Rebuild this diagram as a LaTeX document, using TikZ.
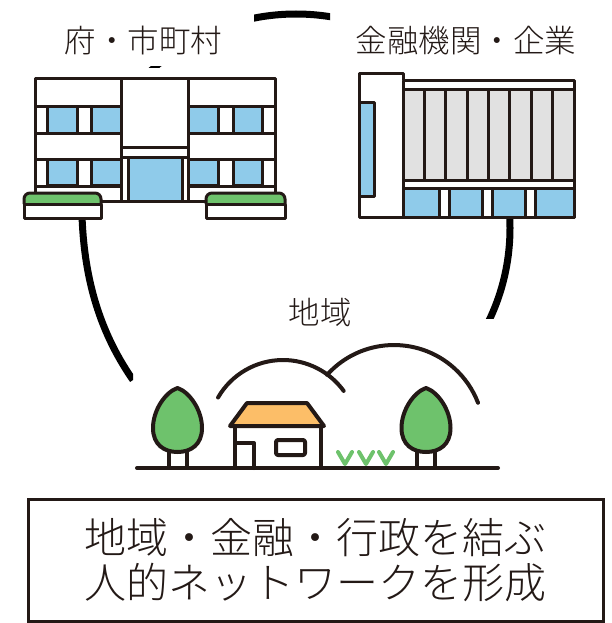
\documentclass[tikz,border=0pt]{standalone}
\usepackage{fontspec}
\newfontfamily\jp{Noto Sans CJK JP Light}
\definecolor{ink}{RGB}{35,25,22}
\definecolor{sky}{RGB}{143,203,234}
\definecolor{leaf}{RGB}{110,194,108}
\definecolor{roof}{RGB}{252,190,104}
\definecolor{panel}{RGB}{225,225,225}
\tikzset{
  bld/.style={draw=ink, line width=3, line join=round},
  win/.style={bld, fill=sky},
  land/.style={draw=ink, line width=4, line cap=round, line join=round},
  ring/.style={draw=black, line width=7},
  label/.style={font=\jp\fontsize{31.5}{31.5}\selectfont, text=ink, inner sep=0},
}
\begin{document}
\begin{tikzpicture}[x=1pt,y=-1pt]
\useasboundingbox (0,0) rectangle (612,623);

% ---- ring linking the three actors (only its uncovered parts) ----
\begin{scope}
  \clip (254,0) rectangle (330,40);
  \draw[ring] (296,228) circle[radius=214];
\end{scope}
\begin{scope}
  \clip (140,66.3) rectangle (170,68);
  \draw[ring] (296,228) circle[radius=214];
\end{scope}
\begin{scope}
  \clip (480,219.5) rectangle (612,318);
  \draw[ring] (296,228) circle[radius=214];
\end{scope}
\begin{scope}
  \clip (0,219.5) rectangle (133,400);
  \draw[ring] (82,216) .. controls (84,271) and (96,327) .. (133,380);
\end{scope}

% ---- labels ----
\node[label] (gov) at (143.5,40) {府・市町村};
\node[label] (fin) at (466,41) {金融機関・企業};
\node[label] (area) at (320,312) {地域};

% ---- town hall ----
\draw[bld, fill=white] (35,79) rectangle (275,201);
\foreach \y in {107,133,159,186} {
  \draw[bld] (35,\y) -- (121,\y);
  \draw[bld] (188,\y) -- (275,\y);
}
\foreach \y in {107,159} {
  \draw[win] (47,\y) rectangle (77,\y+26);
  \draw[win] (91,\y) rectangle (121,\y+26);
  \draw[win] (188,\y) rectangle (218,\y+26);
  \draw[win] (233,\y) rectangle (262,\y+26);
}
\draw[bld] (121,79) -- (121,201);
\draw[bld] (188,79) -- (188,201);
\draw[bld] (121,147) -- (188,147);
\draw[bld] (121,157) -- (188,157);
\draw[win] (128,157) rectangle (182,201);
% planters
\foreach \a/\b in {24/101,206/285} {
  \draw[bld, fill=leaf, rounded corners=6] (\a,204) -- (\a,193) -- (\b,193) -- (\b,204);
  \draw[bld, fill=white] (\a,204) rectangle (\b,218);
}

% ---- bank / company building ----
\draw[bld, fill=white] (359,217) -- (359,74) -- (403,74) -- (403,81) -- (574,81) -- (574,217) -- cycle;
\draw[bld, fill=panel] (403,90) rectangle (574,180);
\foreach \i in {1,...,7} \draw[bld] (403+21.375*\i,90) -- (403+21.375*\i,180);
\draw[bld] (403,81) -- (403,217);
\draw[bld] (403,188) -- (574,188);
\draw[win] (403,188) rectangle (439,217);
\draw[win] (449,188) rectangle (482,217);
\draw[win] (492,188) rectangle (525,217);
\draw[win] (535,188) rectangle (574,217);
\draw[win] (359,103) rectangle (374,196);

% ---- local area: hills, trees, house, grass ----
\draw[land] (218.05,397.5) arc[start angle=210, end angle=324, radius=75];
\draw[land] (327.1,374.8) arc[start angle=222, end angle=339, radius=90];
\foreach \c in {177.5,426} {
  \draw[land, fill=white] (\c-9,448) rectangle (\c+9,468);
  \draw[land, fill=leaf] (\c,388) .. controls (\c-12,392) and (\c-24.5,410) .. (\c-24.5,428)
     .. controls (\c-24.5,445) and (\c-13,452) .. (\c,452)
     .. controls (\c+13,452) and (\c+24.5,445) .. (\c+24.5,428)
     .. controls (\c+24.5,410) and (\c+12,392) .. cycle;
}
\draw[land, fill=white] (235,426) rectangle (321,468);
\draw[land, fill=roof] (247,403) -- (307,403) -- (324,426) -- (230,426) -- cycle;
\draw[land] (235,443) -- (254,443) -- (254,468);
\draw[land, rounded corners=2] (276,440) rectangle (305,455);
\foreach \g in {345,366,386}
  \draw[draw=leaf, line width=4, line cap=round, line join=round] (\g-7,452) -- (\g,464) -- (\g+7,452);
\draw[land] (137,468) -- (498,468);

% ---- message box ----
\node[draw=ink, line width=3, minimum width=575, minimum height=122, inner sep=0,
      font=\jp\fontsize{42}{45}\selectfont, text=ink, align=center] (msg) at (315.5,560)
  {地域・金融・行政を結ぶ\\人的ネットワークを形成};
\end{tikzpicture}
\end{document}
